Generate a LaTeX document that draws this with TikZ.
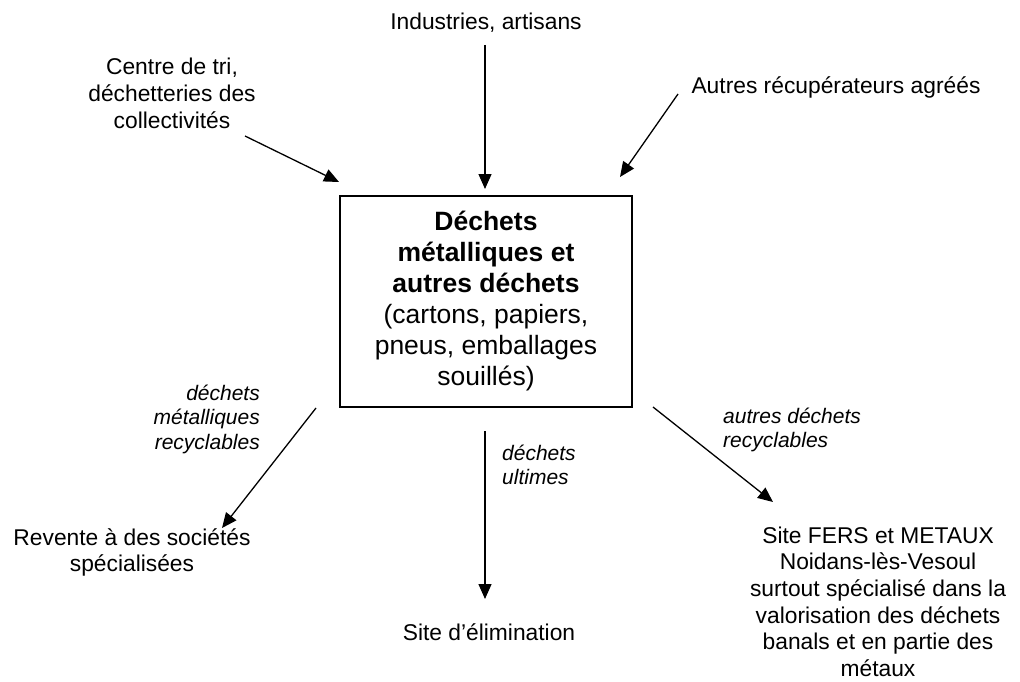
\documentclass[tikz,border=0pt]{standalone}
\usepackage{fontspec}
\setmainfont{Liberation Sans}
\usetikzlibrary{arrows.meta}
\newcommand{\mlc}[1]{\begin{tabular}[t]{@{}c@{}}#1\end{tabular}}
\newcommand{\mll}[1]{\begin{tabular}[t]{@{}l@{}}#1\end{tabular}}
\newcommand{\mlr}[1]{\begin{tabular}[t]{@{}r@{}}#1\end{tabular}}
\begin{document}
\begin{tikzpicture}[x=1pt,y=-1pt,
  lbl/.style={inner sep=0pt, anchor=base, font=\fontsize{22.8}{26.7}\selectfont},
  ital/.style={inner sep=0pt, font=\fontsize{21}{24.2}\selectfont\itshape},
  flow/.style={line width=1.3pt, -{Triangle[length=15pt,width=13pt]}},
  mainbox/.style={draw, line width=1.5pt, inner sep=0pt, minimum width=292pt, minimum height=211pt, font=\fontsize{26.5}{31}\selectfont}
  ]
\useasboundingbox (0,0) rectangle (1020,682);

% central box
\node[mainbox] (box) at (486,301.5) {\mlc{\textbf{Déchets}\\\textbf{métalliques et}\\\textbf{autres déchets}\\(cartons, papiers,\\pneus, emballages\\souillés)}};

% sources
\node[lbl] (ind) at (486,30) {Industries, artisans};
\node[lbl] (ctr) at (172,75) {\mlc{Centre de tri,\\déchetteries des\\collectivités}};
\node[lbl] (aut) at (836,93.3) {Autres récupérateurs agréés};

% destinations
\node[lbl] (rev) at (132,545) {\mlc{Revente à des sociétés\\spécialisées}};
\node[lbl] (elim) at (489,640) {Site d’élimination};
\node[lbl] (fers) at (878,543) {\mlc{Site FERS et METAUX\\Noidans-lès-Vesoul\\surtout spécialisé dans la\\valorisation des déchets\\banals et en partie des\\métaux}};

% flow labels
\node[ital, anchor=base east] (lmet) at (260,400.7) {\mlr{déchets\\métalliques\\recyclables}};
\node[ital, anchor=base west] (lult) at (502,460.7) {\mll{déchets\\ultimes}};
\node[ital, anchor=base west] (laut) at (723,423.3) {\mll{autres déchets\\recyclables}};

% connector end points
\coordinate (indS) at (485,45);
\coordinate (indE) at (485,189);
\coordinate (ctrS) at (245,136);
\coordinate (ctrE) at (339,182);
\coordinate (autS) at (678,94);
\coordinate (autE) at (620,177);
\coordinate (revS) at (316,408);
\coordinate (revE) at (222,528);
\coordinate (elimS) at (485,431);
\coordinate (elimE) at (485,599);
\coordinate (fersS) at (653,407);
\coordinate (fersE) at (773,502);

\draw[flow] (indS) -- (indE);
\draw[flow] (ctrS) -- (ctrE);
\draw[flow] (autS) -- (autE);
\draw[flow] (revS) -- (revE);
\draw[flow] (elimS) -- (elimE);
\draw[flow] (fersS) -- (fersE);
\end{tikzpicture}
\end{document}
